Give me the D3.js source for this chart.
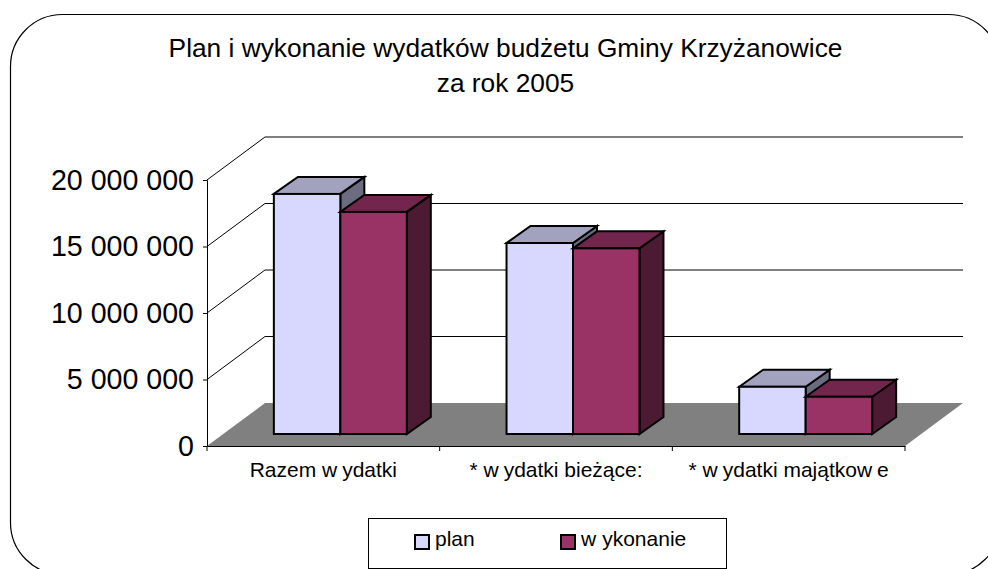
<!DOCTYPE html>
<html>
<head>
<meta charset="utf-8">
<script src="https://cdn.jsdelivr.net/npm/d3@7"></script>
<style>
  html, body { margin: 0; padding: 0; background: #fff; overflow: hidden; }
  text { font-family: "Liberation Sans", Arial, sans-serif; fill: #000; }
</style>
</head>
<body>
<div id="container"></div>
<script>
/* DATA */
const categories = ["Razem wydatki", "* wydatki bieżące:", "* wydatki majątkowe"]
const seriesNames = ["plan", "wykonanie"]
const plan = [18050000, 14360000, 3550000]
const wykonanie = [16700000, 13960000, 2800000]
const yTicks = [0, 5000000, 10000000, 15000000, 20000000]
const titleLines = ["Plan i wykonanie wydatków budżetu Gminy Krzyżanowice", "za rok 2005"]

/* CONSTANTS */
const width = 988, height = 569
const depth = { x: 58, y: 43 }      // full depth of the floor
const barDepth = { x: 24, y: 17 }   // depth of one bar
const barInset = { x: 17, y: 12 }   // how far bars stand behind the front edge
const colors = {
  plan: { front: "#d8d8ff", top: "#a2a2bf", side: "#6c6c80" },
  wykonanie: { front: "#993366", top: "#73264d", side: "#4d1a33" }
}

// the reference renders a small gap after every "w" in these labels
const spacedText = (sel, gap) => sel.each(function (d) {
  const t = d3.select(this).text("")
  let pendingGap = 0
  d.split(/(?<=w)/).forEach(part => {
    t.append("tspan").attr("dx", pendingGap).text(part)
    pendingGap = gap
  })
})

const svg = d3.select("#container").append("svg")
  .attr("width", width)
  .attr("height", height)

// frame
svg.append("rect")
  .attr("x", 10.5).attr("y", 14.5)
  .attr("width", 990).attr("height", 560)
  .attr("rx", 52).attr("ry", 52)
  .attr("fill", "#fff").attr("stroke", "#000").attr("stroke-width", 1.2)

// SCALES
const xScale = d3.scaleBand().domain(categories).range([207, 905])
const x1Scale = d3.scaleBand().domain(seriesNames)
  .range([0, xScale.bandwidth()]).paddingOuter(0.75).paddingInner(0)
const yScale = d3.scaleLinear().domain([0, 20000000]).range([446, 180])

// floor
const x0 = xScale.range()[0], x9 = xScale.range()[1], y0 = yScale(0)
svg.append("path")
  .attr("d", d3.line()([[x0, y0], [x0 + depth.x, y0 - depth.y], [x9 + depth.x, y0 - depth.y], [x9, y0]]) + "Z")
  .attr("fill", "#808080")

// back wall gridlines
svg.append("g").selectAll("path")
  .data(yTicks.slice(1))
  .join("path")
  .attr("fill", "none")
  .attr("stroke", "#000")
  .attr("d", d => d3.line()([
    [x0, yScale(d)],
    [x0 + depth.x, yScale(d) - depth.y],
    [x9 + depth.x, yScale(d) - depth.y]
  ]))

// top edge of the wall is thicker and grey
const topY = yScale(yTicks[yTicks.length - 1]) - depth.y
svg.append("line")
  .attr("x1", x0 + depth.x).attr("x2", x9 + depth.x)
  .attr("y1", topY).attr("y2", topY)
  .attr("stroke", "#808080").attr("stroke-width", 2)

// BARS
const rows = categories.flatMap((c, i) => [
  { cat: c, name: "plan", value: plan[i] },
  { cat: c, name: "wykonanie", value: wykonanie[i] }
])
const barG = svg.append("g").attr("stroke", "#000").attr("stroke-width", 2).attr("stroke-linejoin", "miter")

rows.forEach(d => {
  const l = xScale(d.cat) + x1Scale(d.name) + barInset.x
  const r = l + x1Scale.bandwidth()
  const t = yScale(d.value) - barInset.y
  const b = y0 - barInset.y
  const g = barG.append("g")
  g.append("path").attr("fill", colors[d.name].side)
    .attr("d", d3.line()([[r, t], [r + barDepth.x, t - barDepth.y], [r + barDepth.x, b - barDepth.y], [r, b]]) + "Z")
  g.append("path").attr("fill", colors[d.name].top)
    .attr("d", d3.line()([[l, t], [l + barDepth.x, t - barDepth.y], [r + barDepth.x, t - barDepth.y], [r, t]]) + "Z")
  g.append("rect").attr("fill", colors[d.name].front)
    .attr("x", l).attr("y", t).attr("width", r - l).attr("height", b - t)
})

// AXES
const yAxis = d3.axisLeft(yScale)
  .tickValues(yTicks)
  .tickSize(4)
  .tickPadding(9)
  .tickFormat(d => d3.format(",")(d).replace(/,/g, " "))

const yAxisGroup = svg.append("g")
  .attr("transform", `translate(${x0}, 0)`)
  .call(yAxis)
yAxisGroup.select(".domain").attr("stroke", "#000")
yAxisGroup.selectAll("text").style("font-size", "28.6px").attr("font-family", null)

const xAxis = d3.axisBottom(xScale).tickSize(0).tickPadding(16)
const xAxisGroup = svg.append("g")
  .attr("transform", `translate(0, ${y0})`)
  .call(xAxis)
xAxisGroup.selectAll("text")
  .style("font-size", "21px")
  .attr("font-family", null)
  .call(spacedText, 5)
xAxisGroup.append("g").selectAll("line")
  .data(d3.range(categories.length + 1))
  .join("line")
  .attr("x1", d => x0 + d * xScale.step()).attr("x2", d => x0 + d * xScale.step())
  .attr("y1", 0).attr("y2", 5)
  .attr("stroke", "#000")

// TITLE
svg.append("g").selectAll("text")
  .data(titleLines)
  .join("text")
  .attr("x", 505.5)
  .attr("y", (d, i) => 57 + i * 35)
  .attr("text-anchor", "middle")
  .style("font-size", "26.3px")
  .text(d => d)

// LEGEND
svg.append("rect")
  .attr("x", 368.5).attr("y", 518.5)
  .attr("width", 358).attr("height", 50)
  .attr("fill", "#fff").attr("stroke", "#000")

const legendX = d3.scalePoint().domain(seriesNames).range([415, 561])
const legend = svg.append("g").selectAll("g")
  .data(seriesNames)
  .join("g")
  .attr("transform", d => `translate(${legendX(d)}, 535)`)
legend.append("rect")
  .attr("width", 14).attr("height", 14)
  .attr("fill", d => colors[d].front)
  .attr("stroke", "#000").attr("stroke-width", 2)
legend.append("text")
  .attr("x", 20).attr("y", 11)
  .style("font-size", "21px")
  .datum(d => d)
  .call(spacedText, 6)
</script>
</body>
</html>
